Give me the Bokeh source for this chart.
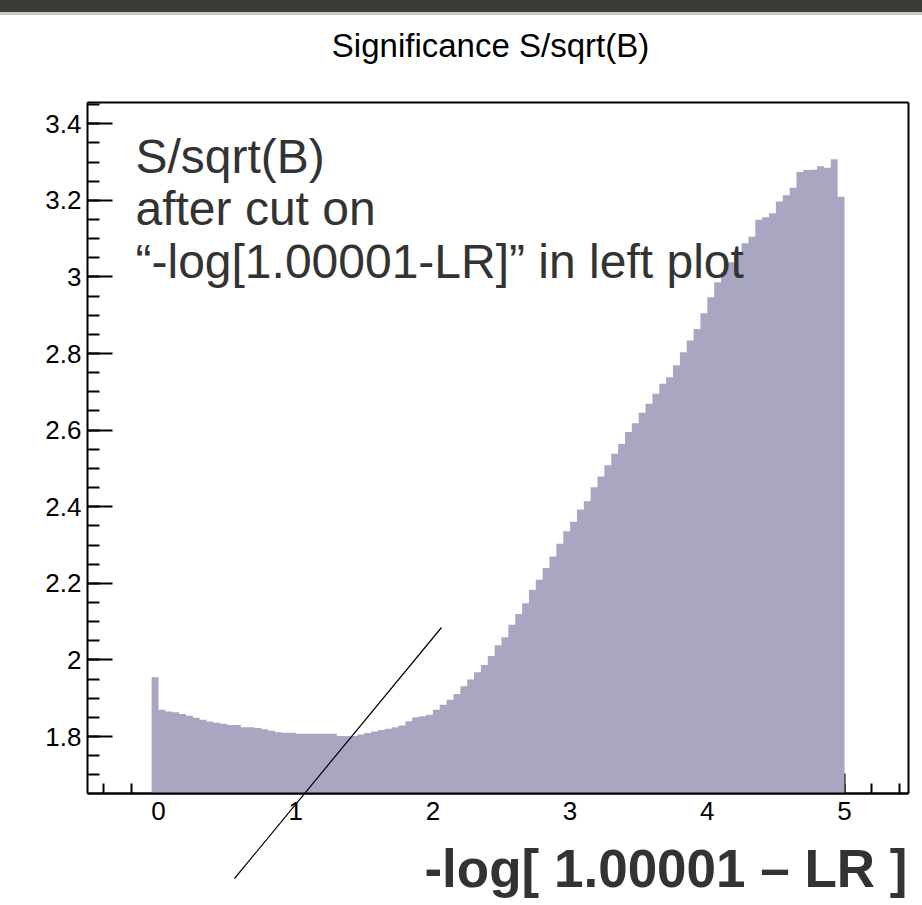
import numpy as np
from bokeh.plotting import figure
from bokeh.models import Range1d, FixedTicker, Label, Div, LinearAxis
from bokeh.layouts import column
from bokeh.embed import file_html
from bokeh.resources import INLINE

# ---------------- data ----------------
title_text = "Significance S/sqrt(B)"
note_lines = ["S/sqrt(B)", "after cut on", "\u201c-log[1.00001-LR]\u201d in left plot"]
x_label_text = "-log[ 1.00001 \u2013 LR ]"

bin_low = -0.05
bin_width = 0.05
significance = [
    1.955, 1.870, 1.865, 1.863, 1.859, 1.854, 1.849, 1.844, 1.839, 1.836,
    1.833, 1.830, 1.830, 1.824, 1.824, 1.822, 1.819, 1.815, 1.811, 1.810,
    1.810, 1.807, 1.807, 1.807, 1.807, 1.807, 1.807, 1.801, 1.801, 1.801,
    1.805, 1.809, 1.813, 1.817, 1.820, 1.824, 1.829, 1.840, 1.850, 1.853,
    1.857, 1.870, 1.883, 1.896, 1.911, 1.931, 1.949, 1.968, 1.987, 2.010,
    2.038, 2.059, 2.092, 2.120, 2.148, 2.183, 2.209, 2.240, 2.270, 2.303,
    2.336, 2.361, 2.393, 2.414, 2.451, 2.479, 2.508, 2.538, 2.564, 2.595,
    2.618, 2.645, 2.669, 2.695, 2.721, 2.738, 2.769, 2.803, 2.834, 2.864,
    2.905, 2.947, 2.986, 3.012, 3.038, 3.063, 3.088, 3.105, 3.149, 3.156,
    3.166, 3.197, 3.213, 3.233, 3.274, 3.279, 3.280, 3.289, 3.285, 3.307,
    3.209,
]

x_ticks = [0, 1, 2, 3, 4, 5]
x_tick_labels = ["0", "1", "2", "3", "4", "5"]
y_ticks = [1.8, 2, 2.2, 2.4, 2.6, 2.8, 3, 3.2, 3.4]
y_tick_labels = ["1.8", "2", "2.2", "2.4", "2.6", "2.8", "3", "3.2", "3.4"]
x_minor_step = 0.2
y_minor_step = 0.05

# hand-drawn pointer line (page pixels)
pointer_start_px = (234, 878)
pointer_end_px = (441, 627)

# ---------------- layout geometry ----------------
W = 922
BAR_H = 15
H = 905 - BAR_H
FL, FR, FT, FB = 87, 908, 102, 793      # ROOT frame edges in page pixels
X0_PX, X_PER = 158.0, 137.2             # x=0 position, px per unit
Y18_PX, Y_PER = 736.0, 383.0            # y=1.8 position, px per unit
FONT = "Liberation Sans"


def px_x(px):
    return (px - X0_PX) / X_PER


def px_y(py):
    return 1.8 + (Y18_PX - py) / Y_PER


xl, xr = px_x(FL), px_x(FR)
yb, yt = px_y(FB), px_y(FT)

# the plotting frame covers the whole canvas; the ROOT-style box is made of axes
p = figure(width=W, height=H, x_range=Range1d(px_x(0), px_x(W)),
           y_range=Range1d(px_y(905), px_y(BAR_H)),
           output_backend="svg", toolbar_location=None, min_border=0)
p.margin = 0
p.background_fill_color = "white"
p.border_fill_color = "white"
p.outline_line_color = None
p.xgrid.visible = False
p.ygrid.visible = False

# histogram as one filled step area
edges = bin_low + bin_width * np.arange(len(significance) + 1)
tops = list(significance) + [significance[-1]]
p.varea_step(x=edges, y1=[yb] * len(edges), y2=tops, step_mode="after",
             fill_color="#a9a6c1", level="annotation")

# main axes
x_minor = [round(v, 3) for v in np.arange(-0.4, 5.41, x_minor_step)]
y_minor = [round(v, 3) for v in np.arange(1.70, 3.46, y_minor_step)]
xa, ya = p.xaxis[0], p.yaxis[0]
xa.ticker = FixedTicker(ticks=x_ticks, minor_ticks=x_minor)
ya.ticker = FixedTicker(ticks=y_ticks, minor_ticks=y_minor)
xa.major_label_overrides = {t: l for t, l in zip(x_ticks, x_tick_labels)}
ya.major_label_overrides = {t: l for t, l in zip(y_ticks, y_tick_labels)}
xa.fixed_location = yb
xa.bounds = (xl, xr)
ya.fixed_location = xl
ya.bounds = (yb, yt)

for ax, tin, mtin, standoff in ((xa, 20, 10, 8), (ya, 25, 12, 6)):
    ax.axis_line_color = "black"
    ax.axis_line_width = 2
    ax.major_tick_in = tin
    ax.major_tick_out = 0
    ax.minor_tick_in = mtin
    ax.minor_tick_out = 0
    ax.major_tick_line_color = "black"
    ax.minor_tick_line_color = "black"
    ax.major_tick_line_width = 2
    ax.minor_tick_line_width = 2
    ax.major_label_standoff = standoff
    ax.major_label_text_font = FONT
    ax.major_label_text_font_size = "26px"
    ax.major_label_text_color = "black"


def frame_edge(loc, bounds, level="guide"):
    ax = LinearAxis(ticker=FixedTicker(ticks=[]), fixed_location=loc, bounds=bounds,
                    axis_line_color="black", axis_line_width=2,
                    major_tick_line_color=None, minor_tick_line_color=None,
                    major_label_text_font_size="0px", level=level)
    return ax


p.add_layout(frame_edge(yt, (xl, xr)), "above")
p.add_layout(frame_edge(xr, (yb, yt)), "right")
p.add_layout(frame_edge(yb, (xl, xr), level="overlay"), "below")

# title
p.add_layout(Label(x=px_x(490), y=px_y(45), text=title_text, text_align="center",
                   text_baseline="alphabetic", text_font=FONT,
                   text_font_size="33px", text_color="black", level="overlay"))

# overlay note
for line, base in zip(note_lines, (155.5, 207.5, 260.5)):
    p.add_layout(Label(x=px_x(135), y=px_y(base), text=line, text_align="left",
                       text_baseline="alphabetic", text_font=FONT,
                       text_font_size="48px", text_color="#333333", level="overlay"))

# big x-axis label
p.add_layout(Label(x=px_x(907), y=px_y(868), text=x_label_text, text_align="right",
                   text_baseline="alphabetic", text_font=FONT,
                   text_font_style="bold", text_font_size="53px",
                   text_color="#333333", level="overlay"))

# hand-drawn pointer line
p.segment(x0=[px_x(pointer_start_px[0])], y0=[px_y(pointer_start_px[1])],
          x1=[px_x(pointer_end_px[0])], y1=[px_y(pointer_end_px[1])],
          line_color="black", line_width=1.2, level="overlay")

bar = Div(text="", width=W, height=BAR_H, margin=0,
          styles={"background-color": "#3b3a37", "border-bottom": "3px solid #c9c9c9",
                  "box-sizing": "border-box"})

layout = column(bar, p, spacing=0, margin=0)
open("out.html", "w").write(file_html(layout, INLINE))
